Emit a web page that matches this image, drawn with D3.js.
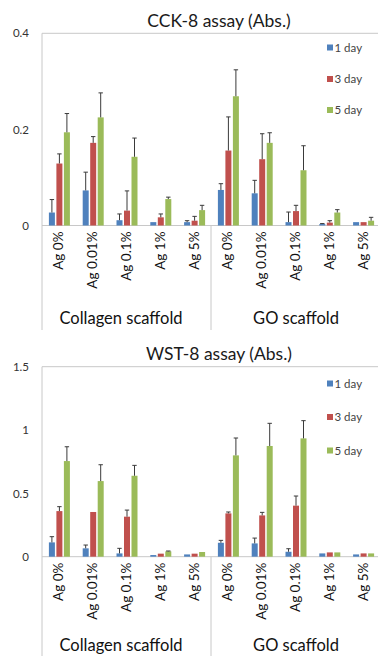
<!DOCTYPE html>
<html><head><meta charset="utf-8">
<script src="https://cdn.jsdelivr.net/npm/d3@7"></script>
<style>body{margin:0;background:#fff}svg{display:block}text{font-family:Lato,"Open Sans",sans-serif}</style>
</head><body>
<script>
const categories = ["Ag 0%","Ag 0.01%","Ag 0.1%","Ag 1%","Ag 5%","Ag 0%","Ag 0.01%","Ag 0.1%","Ag 1%","Ag 5%"];
const groups = ["Collagen scaffold","GO scaffold"];
const seriesNames = ["1 day","3 day","5 day"];
const colors = ["#4F81BD","#C0504D","#9BBB59"];

// CCK-8 values and upper error-bar ends
const cck1 = [0.027,0.073,0.011,0.007,0.007, 0.074,0.067,0.007,0.003,0.007];
const cck3 = [0.129,0.172,0.031,0.017,0.010, 0.156,0.138,0.030,0.006,0.007];
const cck5 = [0.194,0.225,0.143,0.055,0.032, 0.269,0.172,0.115,0.027,0.010];
const cckErr1 = [0.027,0.038,0.013,0.000,0.003, 0.013,0.027,0.021,0.001,0.000];
const cckErr3 = [0.020,0.013,0.041,0.007,0.009, 0.070,0.053,0.012,0.004,0.000];
const cckErr5 = [0.039,0.051,0.039,0.004,0.010, 0.055,0.021,0.051,0.006,0.007];
const cckTicks = [0,0.2,0.4];

// WST-8 values and errors
const wst1 = [0.113,0.066,0.026,0.013,0.018, 0.110,0.105,0.039,0.026,0.018];
const wst3 = [0.360,0.353,0.316,0.024,0.024, 0.342,0.326,0.403,0.034,0.026];
const wst5 = [0.755,0.597,0.639,0.042,0.037, 0.800,0.874,0.934,0.034,0.026];
const wstErr1 = [0.045,0.026,0.040,0.000,0.000, 0.019,0.042,0.024,0.000,0.000];
const wstErr3 = [0.035,0.000,0.052,0.000,0.000, 0.011,0.024,0.076,0.000,0.000];
const wstErr5 = [0.113,0.129,0.082,0.003,0.000, 0.137,0.179,0.140,0.000,0.000];
const wstTicks = [0,0.5,1,1.5];

const W = 378, H = 656;
const svg = d3.select("body").append("svg").attr("width", W).attr("height", H);

function drawChart(cfg){
  const g = svg.append("g");
  const x = d3.scaleBand().domain(d3.range(categories.length)).range([42, 380]).paddingInner(0).paddingOuter(0);
  const y = d3.scaleLinear().domain([0, cfg.max]).range([cfg.y0, cfg.yTop]);
  const sub = d3.scaleBand().domain(d3.range(3)).range([0, 21]).paddingInner(0.2);
  const axisCol = "#c8c8c8";

  // title
  g.append("text").attr("x", 219).attr("y", cfg.titleY).attr("text-anchor","middle")
    .attr("font-size", 17.5).attr("fill","#1a1a1a").text(cfg.title);

  // plot border top and left
  g.append("line").attr("x1",42).attr("x2",W).attr("y1",y(cfg.max)).attr("y2",y(cfg.max)).attr("stroke",axisCol);
  g.append("line").attr("x1",42).attr("x2",42).attr("y1",y(cfg.max)).attr("y2",cfg.bottom).attr("stroke",axisCol);
  // baseline
  g.append("line").attr("x1",42).attr("x2",W).attr("y1",y(0)).attr("y2",y(0)).attr("stroke",axisCol);
  // group separator
  const sepX = x(5);
  g.append("line").attr("x1",sepX).attr("x2",sepX).attr("y1",y(0)).attr("y2",cfg.bottom).attr("stroke",axisCol);

  // y axis
  const ya = d3.axisLeft(y).tickValues(cfg.ticks).tickSize(0).tickPadding(0).tickFormat(d3.format("~g"));
  const yg = g.append("g").attr("transform","translate(29,0)").call(ya);
  yg.select(".domain").remove();
  yg.selectAll("text").attr("font-size", 11.5).attr("fill","#333").attr("font-family","Lato,sans-serif");

  const vals = [cfg.v1, cfg.v2, cfg.v3];
  const errs = [cfg.e1, cfg.e2, cfg.e3];
  const cx = i => x(i) + x.bandwidth()/2 - 10.5 + 0.5;
  for (let s = 0; s < 3; s++){
    const bw = sub.bandwidth();
    g.append("g").selectAll("rect").data(vals[s]).join("rect")
      .attr("x", (d,i) => cx(i) + sub(s))
      .attr("y", d => y(d))
      .attr("width", bw)
      .attr("height", d => y(0) - y(d))
      .attr("fill", colors[s]);
    const eg = g.append("g").attr("stroke","#3a3a3a").attr("stroke-width",1);
    vals[s].forEach((d,i) => {
      const e = errs[s][i];
      if (e <= 0) return;
      const mx = cx(i) + sub(s) + bw/2;
      eg.append("line").attr("x1",mx).attr("x2",mx).attr("y1",y(d)).attr("y2",y(d+e));
      eg.append("line").attr("x1",mx-2.2).attr("x2",mx+2.2).attr("y1",y(d+e)).attr("y2",y(d+e));
    });
  }

  // category labels
  g.append("g").selectAll("text").data(categories).join("text")
    .attr("transform", (d,i) => `translate(${x(i)+x.bandwidth()/2+4.5},${y(0)+6}) rotate(-90)`)
    .attr("text-anchor","end").attr("font-size", 13.5).attr("fill","#111").text(d => d);

  // group labels
  g.append("g").selectAll("text").data(groups).join("text")
    .attr("x", (d,i) => i === 0 ? (42 + sepX)/2 - 5.5 : 296)
    .attr("y", cfg.groupY).attr("text-anchor","middle").attr("font-size", 16.5).attr("fill","#111").text(d => d);

  // legend
  const lg = g.append("g");
  seriesNames.forEach((n,i) => {
    const ly = cfg.legY[i];
    lg.append("rect").attr("x",327).attr("y",ly-3).attr("width",6).attr("height",6).attr("fill",colors[i]);
    lg.append("text").attr("x",334.5).attr("y",ly+4).attr("font-size",11.5).attr("fill","#444").text(n);
  });
}

drawChart({title:"CCK-8 assay (Abs.)", titleY:27, max:0.4, y0:225.5, yTop:33.3, ticks:cckTicks,
  v1:cck1, v2:cck3, v3:cck5, e1:cckErr1, e2:cckErr3, e3:cckErr5, bottom:330, groupY:324, legY:[47.5,79,110]});
drawChart({title:"WST-8 assay (Abs.)", titleY:360, max:1.5, y0:556.7, yTop:366.7, ticks:wstTicks,
  v1:wst1, v2:wst3, v3:wst5, e1:wstErr1, e2:wstErr3, e3:wstErr5, bottom:656, groupY:651, legY:[383.5,417,450.5]});
</script>
</body></html>
